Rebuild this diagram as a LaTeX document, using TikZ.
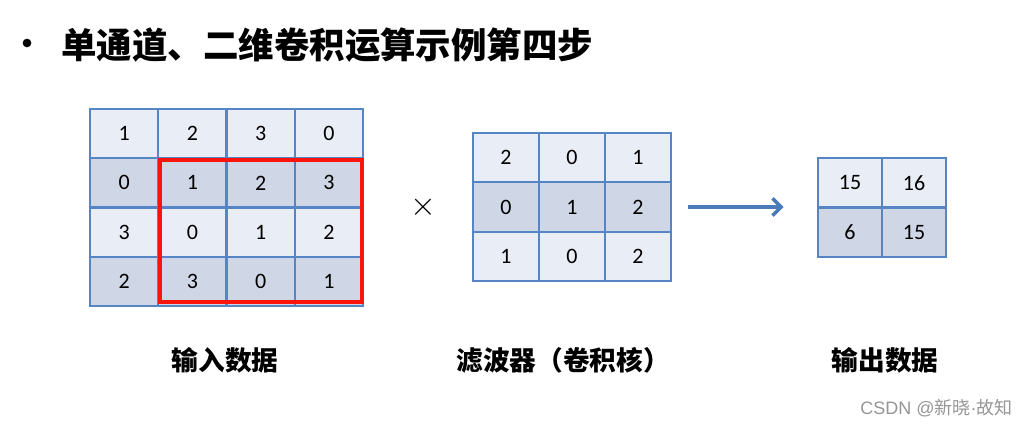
\documentclass[tikz,border=0pt]{standalone}
\usepackage{fontspec}
\setmainfont{Carlito}
\newfontfamily\cjk{Noto Sans CJK SC}
\newfontfamily\wmlat{Liberation Sans}
\usetikzlibrary{arrows.meta}
\definecolor{gridblue}{RGB}{86,133,197}
\definecolor{lightcell}{RGB}{233,237,245}
\definecolor{darkcell}{RGB}{207,215,231}
\definecolor{arrowblue}{RGB}{74,122,185}
\definecolor{boxred}{RGB}{250,20,10}
\definecolor{wmgray}{RGB}{150,150,150}
\begin{document}
\begin{tikzpicture}[x=0.75pt,y=-0.75pt,
  cellbase/.style={draw=gridblue, line width=1.6pt, inner sep=0pt,
    font=\fontsize{16.5}{16.5}\selectfont},
  incell/.style={cellbase, minimum width=51.19pt, minimum height=36.94pt},
  fcell/.style={cellbase, minimum width=49.5pt, minimum height=37pt},
  ocell/.style={cellbase, minimum width=48pt, minimum height=37.1pt},
  redbox/.style={draw=boxred, line width=3pt},
  arr/.style={draw=arrowblue, line width=2.6pt, -{Straight Barb[length=6.5pt,width=13pt,line width=2.6pt]}},
  lbl/.style={font=\cjk\bfseries\fontsize{20}{20}\selectfont},
]
\useasboundingbox (0,0) rectangle (1028,427);

% title
\node[circle, fill=black, inner sep=0pt, minimum size=6.5pt] (bul) at (27,43) {};
\node[anchor=west, inner sep=0pt, font=\cjk\bfseries\fontsize{26.6}{26.6}\selectfont] (title) at (61,45) {单通道、二维卷积运算示例第四步};

% input grid
\foreach \row [count=\i] in {{1,2,3,0},{0,1,2,3},{3,0,1,2},{2,3,0,1}} {
  \foreach \v [count=\j] in \row {
    \pgfmathsetmacro\cx{90+68.25*(\j-0.5)}
    \pgfmathsetmacro\cy{109+49.25*(\i-0.5)}
    \ifodd\i\relax\def\cf{lightcell}\else\def\cf{darkcell}\fi
    \node[incell, fill=\cf] (i\i\j) at (\cx,\cy) {\v};
  }
}
\draw[redbox] ([shift={(2.5,3)}]i22.north west) rectangle ([shift={(-2,-5)}]i44.south east);

% times
\node (times) at (423,207) {\fontsize{26}{26}\selectfont$\times$};

% filter grid
\foreach \row [count=\i] in {{2,0,1},{0,1,2},{1,0,2}} {
  \foreach \v [count=\j] in \row {
    \pgfmathsetmacro\cx{473+66*(\j-0.5)}
    \pgfmathsetmacro\cy{133+49.33*(\i-0.5)}
    \ifodd\i\relax\def\cf{lightcell}\else\def\cf{darkcell}\fi
    \node[fcell, fill=\cf] (f\i\j) at (\cx,\cy) {\v};
  }
}

% output grid
\foreach \row [count=\i] in {{15,16},{6,15}} {
  \foreach \v [count=\j] in \row {
    \pgfmathsetmacro\cx{818+64*(\j-0.5)}
    \pgfmathsetmacro\cy{158+49.5*(\i-0.5)}
    \ifodd\i\relax\def\cf{lightcell}\else\def\cf{darkcell}\fi
    \node[ocell, fill=\cf] (o\i\j) at (\cx,\cy) {\v};
  }
}

% arrow
\draw[arr] ([xshift=12pt]f23.east) -- ([xshift=-25pt]f23.east -| o11.west);

% labels
\node[lbl] (l1) at (225,360) {输入数据};
\node[lbl] (l2) at (563,360) {滤波器（卷积核）};
\node[lbl] (l3) at (885,360) {输出数据};

% watermark
\node[anchor=east, inner sep=0pt, text=wmgray, font=\cjk\fontsize{13.5}{13.5}\selectfont] (wm) at (1013,408) {{\wmlat CSDN @}新晓{\wmlat ·}故知};
\end{tikzpicture}
\end{document}
